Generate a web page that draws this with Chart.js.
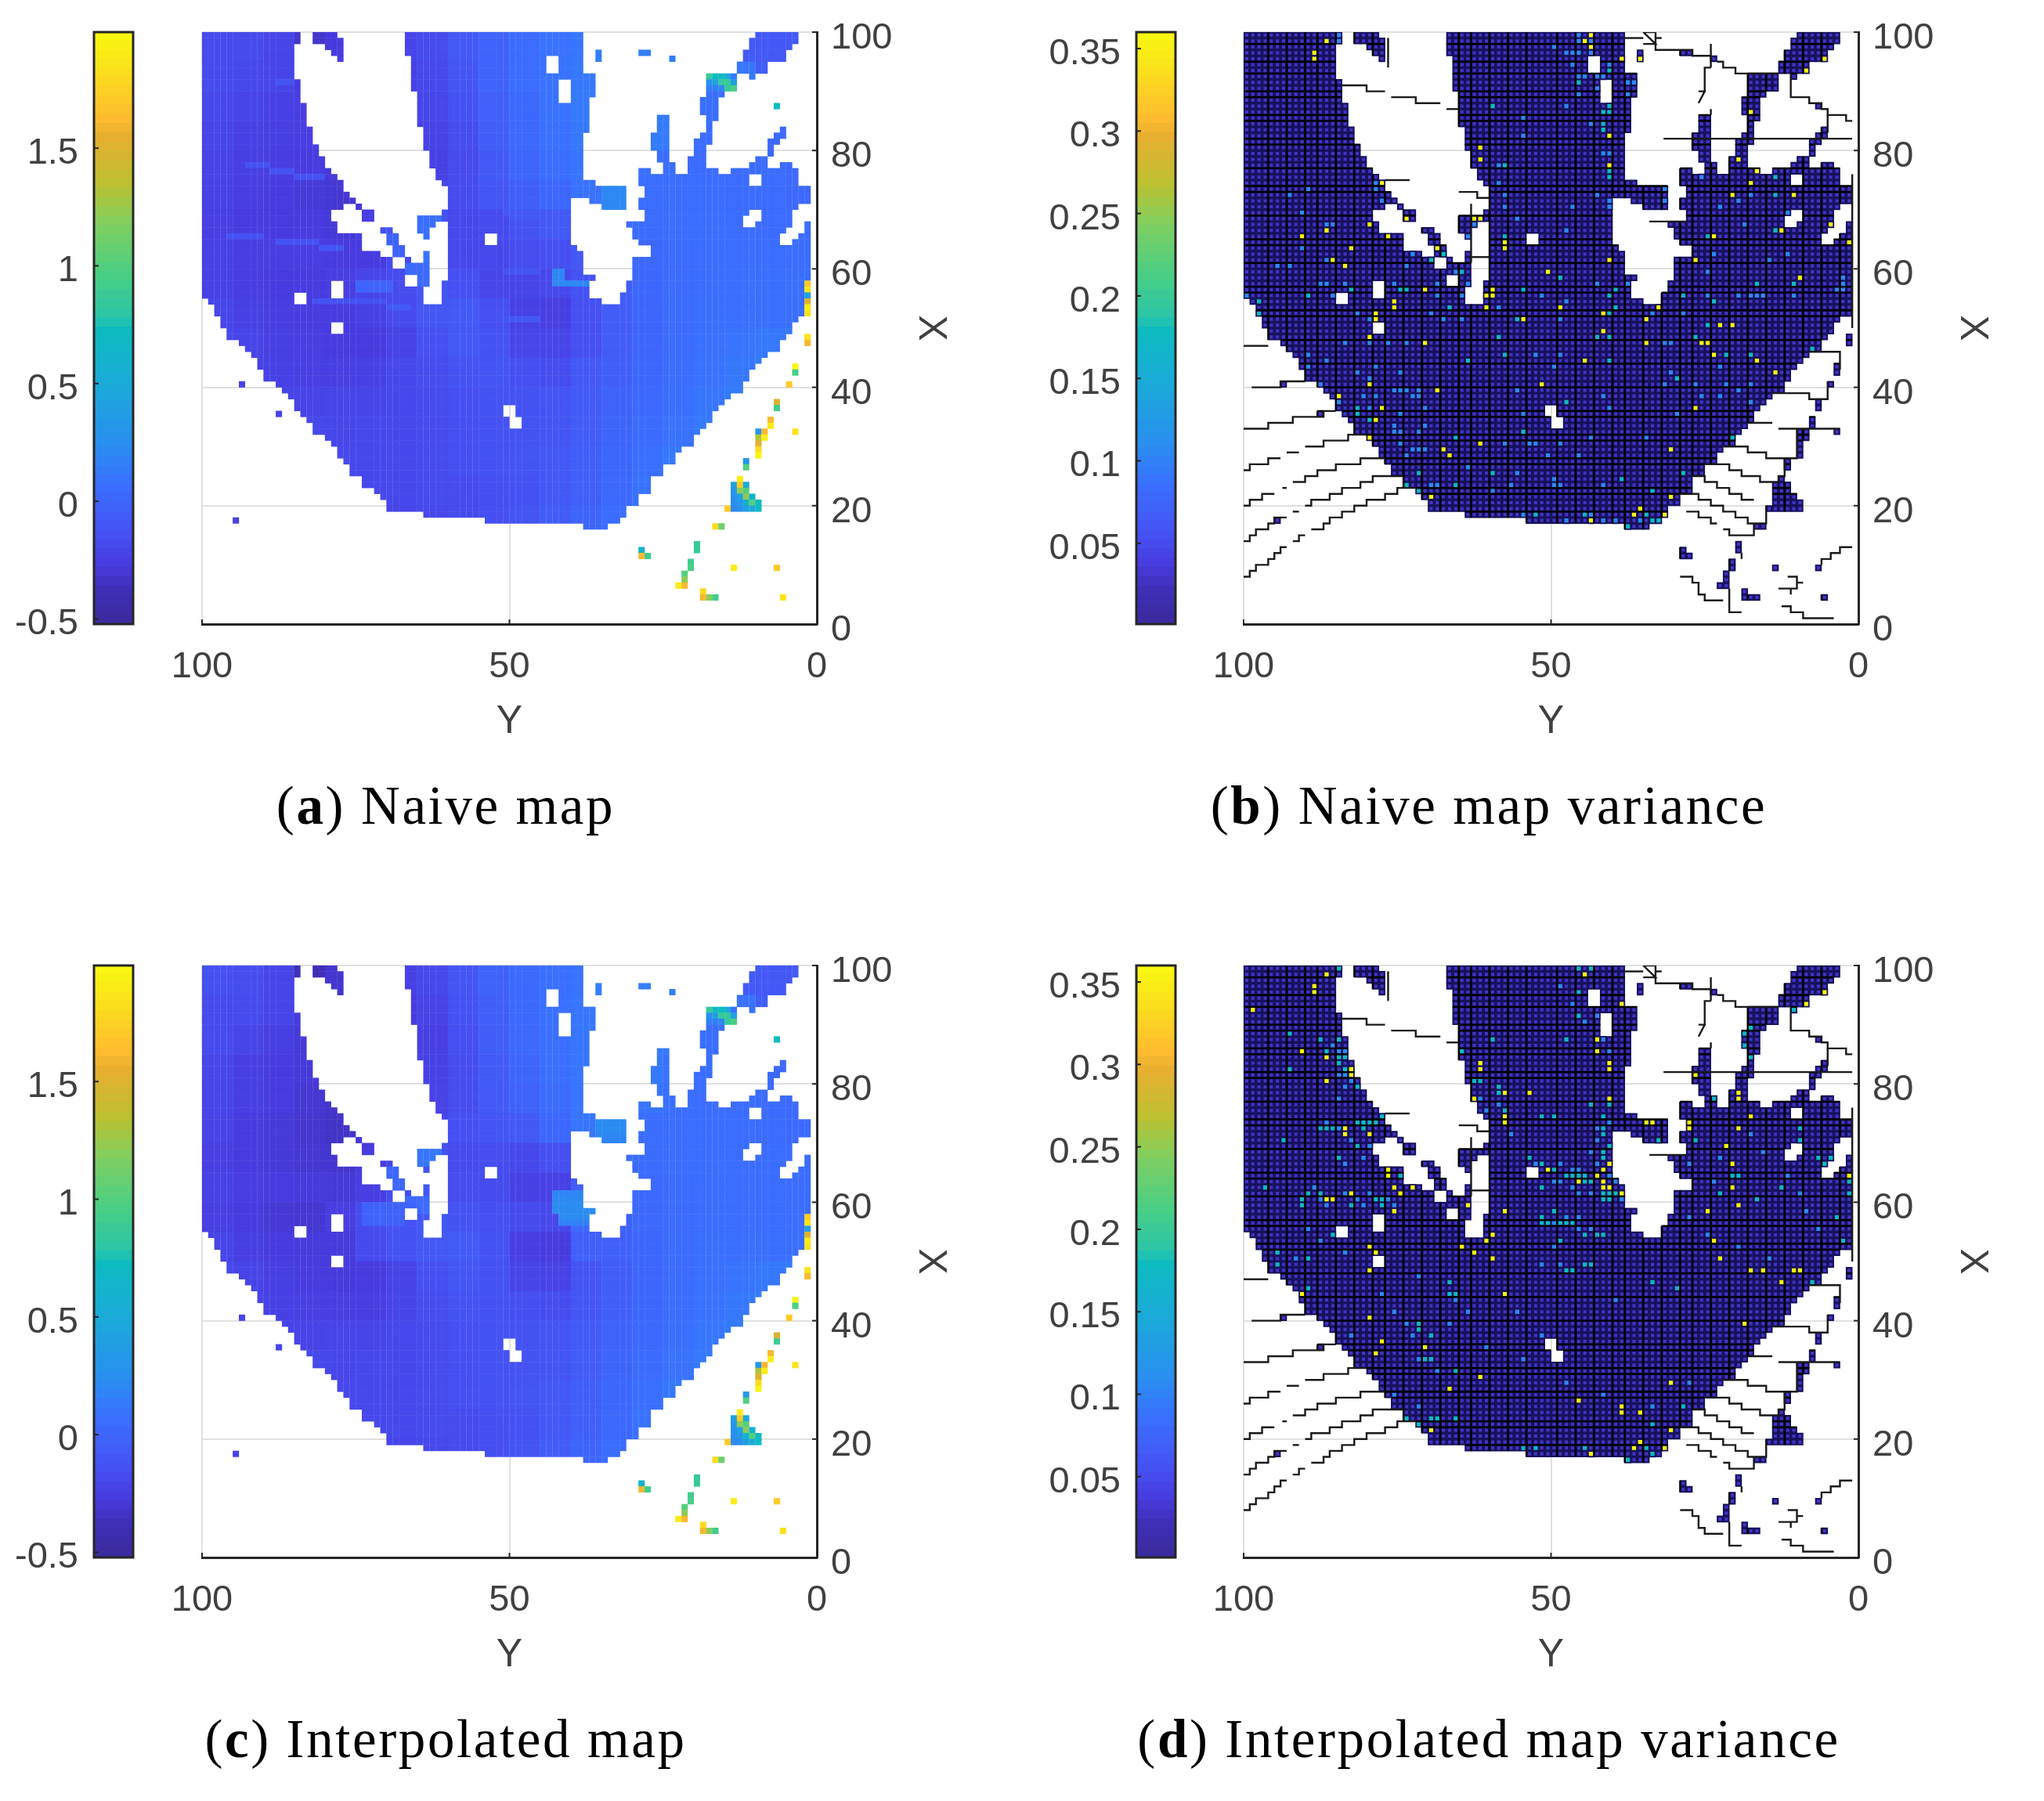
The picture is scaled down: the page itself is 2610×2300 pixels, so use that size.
<!DOCTYPE html>
<html><head><meta charset="utf-8">
<script src="https://cdn.jsdelivr.net/npm/chart.js@4/dist/chart.umd.min.js"></script>
<style>
html,body{margin:0;padding:0;background:#fff;width:2610px;height:2300px;overflow:hidden}
canvas{position:absolute}
.cap{position:absolute;font-family:"Liberation Serif",serif;font-size:69px;letter-spacing:2.6px;color:#000;white-space:nowrap;transform:translate(-50%,-50%)}
.cap b{font-weight:700}
</style></head><body>
<script>
// ---------- tick labels ----------
const mapTicksY = [100, 50, 0];
const mapTicksX = [0, 20, 40, 60, 80, 100];
const valueTicks = [-0.5, 0, 0.5, 1, 1.5];
const varianceTicks = [0.05, 0.1, 0.15, 0.2, 0.25, 0.3, 0.35];
const valueRange = [-0.522, 1.993];
const varianceRange = [0.001, 0.36];
const captions = [["a","Naive map"],["b","Naive map variance"],["c","Interpolated map"],["d","Interpolated map variance"]];

// ---------- colour bar ----------
const cmapT = [0,.056,.1,.147,.235,.299,.406,.494,.518,.586,.673,.741,.821,.853,.916,1];
const cmapC = ["#3a2a9c","#3f2fb8","#483ce0","#4650f2","#3a70ff","#2a8ef0","#1aabd8","#0dbbc0","#2cc5a8","#48cf85","#80cf60","#bcc030","#e8ae30","#ffbc30","#fbd820","#f9fb10"];

// ---------- observed cells: per row (X=100 at row 0), spans of columns (Y=100 at column 0), half open ----------
const rowSpans = [
[[0,16],[18,22],[33,62],[90,97]],[[0,16],[18,23],[33,62],[89,97]],[[0,15],[20,23],[33,62],[89,96]],
[[0,15],[21,23],[33,62],[64,65],[71,73],[88,95]],[[0,15],[22,23],[34,56],[58,62],[64,65],[76,77],[88,95]],
[[0,15],[34,56],[58,62],[87,92]],[[0,15],[34,56],[58,62],[87,92]],[[0,15],[34,64],[82,87],[89,90]],
[[0,16],[34,58],[60,64],[82,87]],[[0,16],[34,58],[60,64],[82,87]],[[0,16],[35,58],[60,64],[82,85]],
[[0,16],[35,58],[60,63],[81,84]],[[0,17],[35,63],[81,84],[93,94]],[[0,17],[35,63],[81,84]],
[[0,17],[35,63],[74,76],[82,84]],[[0,17],[35,63],[74,76],[82,83]],[[0,18],[36,63],[74,76],[82,83],[94,95]],
[[0,18],[36,62],[73,76],[81,83],[93,95]],[[0,18],[36,62],[73,76],[80,83],[92,94]],[[0,19],[36,62],[73,76],[80,82],[92,93]],
[[0,19],[37,62],[74,76],[80,82],[92,93]],[[0,20],[37,62],[74,76],[79,82],[90,92]],[[0,20],[37,62],[75,77],[79,82],[89,92],[94,96]],
[[0,21],[38,62],[71,73],[75,77],[79,84],[86,97]],[[0,22],[38,62],[71,89],[91,97]],[[0,23],[39,64],[71,89],[91,97]],
[[0,23],[40,69],[72,99]],[[0,24],[40,69],[72,99]],[[0,25],[40,60],[63,69],[71,99]],
[[0,23],[25,26],[40,60],[65,69],[71,97]],[[0,21],[26,28],[39,60],[72,89],[91,96]],[[0,21],[26,28],[35,60],[72,88],[91,96]],
[[0,22],[35,38],[40,60],[69,88],[90,96],[98,99]],[[0,22],[29,31],[35,37],[40,60],[70,95],[98,99]],
[[0,26],[30,32],[36,37],[40,46],[48,60],[70,94],[97,99]],[[0,26],[30,32],[40,46],[48,60],[71,94],[96,99]],
[[0,26],[31,33],[40,61],[73,99]],[[0,29],[31,33],[36,37],[40,62],[73,99]],[[0,31],[33,34],[36,37],[40,62],[70,99]],
[[0,31],[33,37],[40,62],[70,99]],[[0,37],[40,62],[70,99]],[[0,33],[35,37],[40,64],[70,99]],
[[0,21],[23,33],[35,37],[39,63],[69,99]],[[0,21],[23,36],[39,63],[69,99]],[[0,15],[17,21],[23,36],[39,63],[68,99]],
[[1,15],[17,36],[39,65],[68,99]],[[2,99]],[[2,99]],[[3,97]],[[3,21],[23,96]],[[4,21],[23,96]],
[[4,95],[98,99]],[[6,94],[98,99]],[[7,94]],[[8,92]],[[9,91]],[[9,90],[96,97]],[[10,89],[96,97]],[[10,89]],
[[6,7],[12,88],[95,96]],[[13,88]],[[14,86]],[[15,85],[93,94]],[[15,49],[51,84],[93,94]],[[12,13],[16,49],[51,83]],
[[17,50],[52,83],[92,93]],[[18,50],[52,82],[92,93]],[[18,81],[90,92],[96,97]],[[20,80],[90,92]],[[21,80],[90,91]],
[[22,78],[90,91]],[[22,77],[90,91]],[[23,77],[88,89]],[[24,75],[88,89]],[[24,75]],[[26,73],[87,88]],[[26,73],[86,89]],
[[28,73],[86,89]],[[29,71],[86,90]],[[30,71],[86,91]],[[30,69],[85,91]],[[36,69]],[[5,6],[46,68]],[[62,66],[83,85]],
[],[],[[80,81]],[[71,72],[80,81]],[[71,73]],[[79,80]],[[79,80],[86,87],[93,94]],[[78,79]],[[78,79]],[[77,79]],[[81,82]],[[81,84],[94,95]]
];

// ---------- map values read per 5x5 block, hundredths ----------
const naiveCoarse = [
[-18,-19,-22,-33,-28,-26,-22,-18,-10,-2,4,8,10,12,12,12,10,-8,-10,-10],
[-18,-20,-22,-28,-26,-26,-24,-20,-12,-2,5,8,11,13,13,13,12,10,-6,-6],
[-20,-22,-24,-26,-26,-24,-24,-21,-14,-4,3,8,12,13,13,13,6,4,0,0],
[-22,-24,-25,-26,-27,-26,-24,-23,-17,-6,2,7,11,13,13,12,5,5,2,0],
[-23,-25,-26,-27,-29,-28,-26,-24,-19,-9,0,5,9,13,6,5,4,4,4,2],
[-24,-26,-27,-29,-31,-30,-26,-22,-18,-11,-5,1,8,20,5,5,5,4,4,2],
[-25,-27,-27,-27,-29,-26,-22,-14,-20,-18,-13,-9,-4,2,4,5,5,5,4,4],
[-24,-26,-26,-26,-27,-27,-19,-13,-20,-20,-17,-15,-10,-3,2,4,5,5,5,5],
[-24,-26,-27,-27,-25,-22,-18,-12,-15,-21,-22,-20,-14,-6,1,4,5,6,6,6],
[-21,-24,-26,-27,-27,-24,-19,-11,-9,-15,-24,-25,-15,-7,0,4,6,6,6,6],
[-20,-22,-25,-26,-27,-27,-23,-15,-10,-13,-21,-22,-15,-7,0,4,7,9,11,12],
[-21,-23,-24,-25,-25,-24,-20,-17,-13,-12,-15,-17,-10,-5,1,5,8,11,13,13],
[-21,-22,-22,-23,-22,-22,-20,-18,-15,-13,-13,-12,-8,-3,2,6,10,13,14,14],
[-20,-20,-20,-20,-21,-20,-20,-18,-16,-14,-13,-12,-7,-1,4,8,12,14,14,14],
[-20,-20,-20,-20,-20,-20,-20,-18,-16,-14,-12,-10,-5,1,6,11,14,14,14,14],
[-20,-20,-20,-20,-20,-20,-20,-18,-18,-16,-14,-10,-4,2,8,12,14,14,14,14],
[-24,-24,-24,-24,-24,-24,-22,-20,-18,-16,-12,-7,-1,5,10,12,12,12,12,12]];
const interpCoarse = [
[-16,-17,-22,-38,-32,-28,-24,-20,-12,-3,3,6,8,10,10,10,10,-8,-10,-10],
[-18,-18,-22,-28,-28,-26,-27,-23,-14,-5,3,7,10,11,11,11,10,8,-6,-6],
[-18,-22,-25,-29,-28,-26,-26,-25,-16,-6,2,6,10,12,12,12,6,4,0,0],
[-21,-25,-27,-29,-31,-28,-27,-24,-17,-8,0,6,10,13,12,8,6,5,2,0],
[-22,-25,-27,-31,-33,-30,-27,-23,-17,-9,-3,4,9,11,10,6,5,5,4,3],
[-23,-27,-29,-32,-34,-30,-26,-20,-15,-12,-9,1,10,18,5,5,5,5,4,3],
[-25,-27,-29,-31,-32,-28,-22,-13,-18,-17,-20,-16,-6,4,4,5,5,5,5,5],
[-24,-26,-27,-28,-29,-26,-17,-10,-17,-18,-24,-24,-6,3,3,4,5,5,5,5],
[-25,-27,-30,-31,-26,-18,-13,-10,-13,-15,-18,-20,2,-2,2,4,5,5,5,5],
[-22,-25,-27,-28,-28,-18,-14,-10,-8,-13,-25,-27,-4,-4,1,4,6,6,6,6],
[-20,-22,-25,-27,-28,-27,-23,-15,-11,-14,-22,-23,-12,-6,0,4,7,9,11,12],
[-20,-22,-24,-25,-26,-26,-22,-17,-13,-14,-16,-17,-11,-5,1,5,8,11,13,13],
[-21,-22,-22,-23,-22,-22,-20,-18,-15,-13,-13,-12,-8,-3,2,6,10,13,14,14],
[-20,-20,-20,-20,-21,-20,-20,-18,-16,-14,-13,-12,-7,-1,4,8,12,14,14,14],
[-20,-20,-20,-20,-20,-20,-20,-18,-16,-14,-12,-10,-5,1,6,11,14,14,14,14],
[-20,-20,-20,-20,-20,-20,-20,-18,-18,-16,-14,-10,-4,2,8,12,14,14,14,14],
[-24,-24,-24,-24,-24,-24,-22,-20,-18,-16,-12,-7,-1,5,10,12,12,12,12,12]];

// ---------- streaks seen in the maps: [row, colFrom, colTo, value] ----------
const naiveStreaks = [[8,12,15,-.12],[22,7,11,-.14],[23,11,15,-.14],[24,15,20,-.14],[34,4,10,-.14],[35,12,19,-.14],[36,19,23,-.12],
[42,25,31,-.02],[43,25,31,-.02],[45,18,30,-.14],[46,30,34,-.08],[30,49,58,-.1],[31,50,58,-.1],[40,57,59,.2],[41,57,59,.2],[42,57,64,.2],[40,49,55,-.12],[48,49,55,-.1],
[31,35,39,.06],[32,35,38,.06],[33,35,37,.06],[34,36,37,.06],[39,33,37,.02],[40,33,37,.02],[41,35,37,.02],[42,35,37,.02],[33,29,31,-.14],[34,30,32,-.02],[35,30,32,-.02],[36,31,33,-.02],[37,31,33,-.02],[37,36,37,.08],[38,36,37,.08]];
const interpStreaks = [[39,33,37,.02],[40,33,37,.04],[41,35,37,.04],[31,35,39,.1],[32,35,38,.1],[33,35,37,.1],[34,30,32,.0],[35,30,32,.0],[36,31,33,.0],[37,31,33,.0],[38,57,62,.18],[39,57,64,.2],[40,57,63,.22],[41,57,65,.22],[42,58,64,.22],[43,58,63,.16],[26,64,69,.22],[27,64,69,.22],[28,64,69,.2],
[40,26,35,-.03],[41,26,35,-.02],[42,26,33,-.02],[43,26,33,-.03]];

// ---------- single cells off the main surface of the maps: [col, row, value] ----------
const mapOutliers = [
[82,7,.85],[83,7,.72],[84,7,.72],[85,7,.5],[82,8,.25],[83,8,.4],[84,8,.85],[85,8,.85],[86,8,.4],[85,9,.85],[86,9,.95],[84,9,.2],[83,9,.15],[82,9,.15],
[64,3,.15],[64,4,.15],[71,3,.15],[72,3,.15],[76,4,.15],[93,12,.72],
[98,42,1.7],[98,43,1.85],[98,44,.4],[98,45,1.5],[98,46,1.9],[98,47,1.85],
[98,51,1.85],[98,52,1.6],[96,56,1.95],[96,57,.95],[95,59,1.7],[93,62,1.5],[93,63,.9],[92,65,1.6],[92,66,1.9],[96,67,1.85],
[90,67,.3],[91,67,1.6],[90,68,1.3],[91,68,1.9],[90,69,1.5],[90,70,1.8],[90,71,1.95],[88,72,.3],[88,73,1.0],[87,75,1.9],
[86,76,.4],[87,76,1.7],[88,76,.5],[86,77,.3],[87,77,1.2],[88,77,1.0],[86,78,.25],[87,78,.4],[88,78,1.2],[89,78,.6],
[86,79,.25],[87,79,.3],[88,79,.6],[89,79,1.0],[90,79,.7],[85,80,1.7],[86,80,.2],[87,80,.25],[88,80,.4],[89,80,.5],[90,80,.7],
[83,83,1.8],[84,83,1.1],[80,86,.85],[80,87,.85],[71,87,.6],[71,88,1.6],[72,88,.9],[79,89,.9],[79,90,.95],[78,91,1.0],[78,92,1.2],
[77,93,1.9],[78,93,1.6],[81,94,1.8],[81,95,1.6],[82,95,1.2],[83,95,.9],[86,90,1.9],[93,90,1.7],[94,95,1.85]];

// ---------- naive variance: bright cells [col, row] ----------
const varNaiveYellow = [[13,1],[11,3],[11,4],[22,25],[26,31],[20,32],[13,33],[9,34],[23,34],[17,36],[31,36],[14,38],[16,39],[29,43],[24,45],[24,46],[21,47],[21,48],[38,19],[38,21],[37,31],[38,31],[39,44],[39,46],
[56,0],[55,1],[56,2],[61,4],[64,4],[94,4],[91,6],[82,13],[59,17],[80,21],[59,22],[83,23],[82,25],[79,27],[89,27],[95,32],[87,33],[76,34],[42,35],[42,36],[98,35],[73,38],[59,38],[49,40],[90,41],[40,43],[40,44],[51,46],[67,46],[58,47],[45,48],[65,48],[77,49],[79,49],
[20,51],[29,52],[15,61],[20,59],[31,60],[22,63],[21,65],[20,68],[38,69],[32,70],[33,71],[30,78],
[58,50],[65,52],[74,52],[75,52],[76,54],[55,55],[83,55],[86,57],[48,59],[73,63],[69,70],[69,78],[64,80],[63,81],[68,81],[56,82]];
const varNaiveTeal = [[17,43],[10,44],[2,45],[2,47],[25,43],[26,43],[30,38],[32,37],[35,40],[33,46],
[59,6],[54,8],[40,12],[59,12],[58,13],[59,13],[58,15],[58,16],[42,22],[59,23],[59,24],[86,24],[86,27],[75,34],[42,34],[86,33],[45,43],[60,43],[59,44],[71,44],[76,45],[60,46],[59,47],[51,41],[83,42],[89,42],[44,48],[75,49],[96,49],
[36,55],[18,63],[18,64],[20,65],[34,68],[28,74],[26,76],[34,76],[28,77],
[41,51],[57,51],[59,51],[73,51],[42,54],[59,55],[78,54],[82,54],[92,53],[70,58],[52,62],[45,67],[79,68],[71,74],[61,75],[66,77],[40,74],[47,81],[55,81],[65,81],[66,82],[67,82],[62,83]];
const varNaiveBlue = [[15,0],[15,1],[10,26],[7,27],[9,30],[13,32],[14,32],[9,36],[5,39],[7,39],[13,38],[26,39],[0,44],[14,44],[12,42],[13,42],[16,42],[24,42],[34,40],[31,42],[36,42],[36,34],[37,32],[21,25],[21,26],[22,28],[27,37],[35,44],[31,44],[35,48],[32,48],[20,48],[30,47],[18,47],
[54,0],[54,1],[56,1],[54,3],[50,2],[52,3],[53,3],[53,5],[56,3],[59,5],[54,7],[55,7],[57,7],[58,7],[62,8],[63,8],[57,9],[54,10],[62,10],[52,12],[45,14],[56,15],[45,17],[59,20],[58,20],[41,22],[41,25],[42,27],[57,27],[42,29],[53,29],[59,28],[59,29],[44,31],[52,33],[74,24],[82,27],[80,28],[77,29],[88,30],[81,32],[76,37],[85,38],[88,37],[68,26],[68,28],[57,42],[62,42],[48,44],[80,44],[82,44],[83,44],[84,44],[89,44],[96,43],[97,43],[97,42],[97,41],[71,47],[75,44],[75,40],[66,47],[52,45],[41,46],[51,48],
[16,52],[20,52],[23,52],[26,52],[10,54],[13,55],[10,56],[21,56],[18,57],[25,57],[20,58],[12,59],[24,60],[25,60],[26,60],[28,60],[19,61],[21,61],[27,61],[28,61],[15,62],[20,63],[29,63],[25,64],[24,66],[29,66],[24,67],[25,67],[28,67],[25,69],[27,70],[28,70],[29,70],[26,71],[36,73],[30,76],[31,76],[34,81],[35,81],
[68,52],[69,52],[51,54],[47,54],[76,54],[50,56],[77,56],[69,57],[68,59],[73,59],[78,59],[82,59],[44,60],[80,60],[58,61],[74,61],[77,61],[82,62],[59,63],[45,64],[70,64],[56,68],[65,68],[42,69],[46,69],[47,69],[51,69],[54,71],[49,71],[44,74],[50,75],[43,76],[50,76],[51,76],[58,76],[40,77],[45,81],[56,81],[60,82],[58,82],[64,82],[52,82]];

// ---------- interpolated variance: bright cells [col, row] ----------
const varInterpYellow = [[13,1],[11,3],[11,4],[1,7],[9,14],[13,15],[17,17],[17,18],[13,19],[16,27],[16,28],[20,28],[23,34],[23,35],[24,37],[25,38],[27,37],[13,39],[14,39],[17,38],[24,41],[20,47],[21,48],[20,51],[9,55],[20,59],[22,63],[21,65],[29,64],[33,71],[38,69],[30,78],
[38,16],[38,17],[37,22],[42,21],[46,21],[42,25],[42,26],[49,34],[54,36],[58,34],[59,33],[57,35],[58,36],[59,37],[58,37],[61,38],[36,40],[42,41],[40,45],[39,46],[38,45],[35,47],[37,48],[40,49],[42,55],[57,12],[57,14],[59,16],[59,17],[59,22],[55,1],[61,6],
[73,18],[72,26],[72,27],[65,26],[66,26],[80,21],[80,22],[82,25],[80,27],[78,30],[79,33],[79,37],[80,40],[75,41],[82,51],[84,51],[89,51],[90,51],[87,53],[77,49],[76,46],[81,60],[94,4],[91,6],[69,70],[54,73],[61,74],[61,75],[64,75],[69,78],[64,80],[63,81],[68,81],[56,82],[98,35]];
const varInterpTeal = [[15,0],[7,11],[12,12],[15,12],[13,14],[15,15],[16,15],[15,16],[7,17],[16,17],[18,20],[22,25],[12,27],[13,27],[14,27],[18,26],[19,26],[20,26],[21,26],[19,27],[6,29],[18,30],[15,32],[24,33],[25,35],[3,37],[10,38],[12,38],[9,39],[9,40],[21,39],[22,39],[17,40],[22,40],[14,45],[20,47],[10,49],[5,48],[5,50],[10,54],[28,60],[28,61],[30,62],[30,66],[29,66],[34,68],[33,53],[33,55],[34,55],
[40,12],[35,14],[38,19],[37,19],[41,20],[41,21],[42,24],[48,25],[50,25],[46,32],[48,33],[49,34],[50,34],[48,37],[52,35],[53,35],[54,35],[55,35],[55,36],[56,36],[48,42],[50,41],[48,43],[49,43],[51,43],[52,43],[53,43],[55,45],[57,45],[58,45],[52,51],[53,51],[55,50],[56,50],[51,46],[58,38],[59,38],[60,38],[58,39],[59,39],[58,32],[58,31],[58,27],[58,28],[59,30],[59,23],[56,23],[58,25],[54,0],[56,0],[54,4],[54,8],[52,12],
[76,22],[67,29],[73,29],[81,11],[81,13],[82,10],[82,15],[90,27],[90,29],[89,7],[93,32],[95,32],[94,33],[98,36],[98,38],[96,42],[97,46],[92,53],[66,53],[70,54],[79,35],[80,35],[77,38],[83,39],[87,37],[71,74],[66,77],[26,76],[28,77],[30,76],[31,76],[45,81],[47,81],[55,81],[65,81],[66,82],[62,83],[34,76]];
const varInterpBlue = [[14,13],[15,14],[16,14],[15,18],[16,18],[17,19],[16,20],[15,22],[13,26],[15,27],[17,29],[20,30],[19,32],[16,33],[11,37],[12,39],[13,40],[16,38],[18,39],[19,40],[20,38],[23,39],[24,40],[10,44],[12,46],[16,48],[8,49],[26,60],[27,62],[28,66],[31,68],[24,72],[28,74],[38,22],[39,24],[41,23],[43,28],[47,33],[51,33],[53,34],[54,34],[50,36],[51,36],[53,37],[54,38],[56,38],[52,42],[54,42],[50,43],[54,44],[56,44],[50,47],[48,50],[51,50],[57,27],[57,29],[56,31],[57,33],[59,35],[60,36],[61,39],[59,26],[58,12],[59,14],[57,8],[55,9],[51,3],[53,6],[70,30],[72,33],[76,36],[77,32],[82,28],[84,31],[88,35],[90,38],[91,41],[93,44],[72,42],[75,45],[80,47],[85,49],[60,56],[44,58],[48,62],[33,60],[39,64],[45,66],[52,70],[58,72],[66,74],[72,70],[28,52],[34,56],[36,58],[22,55],[24,58],[17,62]];

// ---------- stepped mesh traces in the empty parts: pieces [colFrom, colTo, X] ----------
const meshTraces = [
[[0,4,47]],[[1.3,6,40],[6,10,41]],[[0,4,33],[4,8,34],[8,13,35],[13,15,36]],
[[0,1,26],[1,4,27],[4,6,28]],[[7,9,29]],[[10,13,30],[13,17,31],[17,20,32]],
[[0,1,20],[1,3,21],[3,5,22]],[[6.3,7,23]],[[8,10,24],[10,12,25],[12,15,26],[15,19,27],[19,23,28]],
[[0,1,14],[1,2,15],[2,4,16],[4,5,17],[5,7,18]],[[8,9,19]],[[10,11,20],[11,14,21],[14,16,22],[16,19,23],[19,21,24],[21,26,25]],
[[0,1,8],[1,2,9],[2,4,10],[4,5,11],[5,6,12],[6,7,13]],[[8,9,14],[9,10,15]],[[11,13,16],[13,14,17],[14,16,18],[16,18,19],[18,20,20],[20,23,21],[23,25,22],[25,28,23]],
[[72,74,19],[74,76,18],[76,77,17]],[[78,79,16],[79,83,15],[83,83,17]],
[[71,74,22],[74,76,21],[76,78,20],[78,80,19],[80,82,18],[82,85,17],[85,85,20]],
[[73,75,25],[75,77,24],[77,79,23],[79,81,22],[81,83,21]],
[[75,79,27],[79,81,26],[81,84,25],[84,87,24],[87,88,25],[88,88,28]],
[[78,82,30],[82,85,29],[85,90,28],[90,90,33]],[[82,86,34]],[[87,97,33]],
[[86,92,39],[92,95,38],[95,95,41]],[[92,97,46],[97,97,43]],
[[94,94,10],[94,95.5,11],[95.5,97,12],[97,99,13]],
[[71,73,8],[73,74,7],[74,74,5],[74,75,5],[75,78,4]],[[79,79,6],[79,79,2],[79,81,2]],[[81,81,11],[81,81,12]],
[[87,90,6],[90,90,8],[88.5,90,8]],[[90,91,7]],[[89,89,6],[89,89,5]],[[87.5,89,3],[89,91,2],[91,96,1]],
[[62,65,99]],[[65,67,100],[67,67,98],[65,67,98],[65,65,100]],[[67,68,99]],[[67,67,98],[67,73,97],[73,76,96]],[[76,76,98],[76,76,94]],
[[77,78,95],[78,80,94],[80,87,93]],[[76,75,94],[75,75,90],[74,75,90],[74,74,88]],[[76,76,87],[76,76,86]],
[[89,89,93],[89,92,89],[92,94,88],[94,95,87],[95,98,86],[98,99,85]],[[95,95,86],[95,95,83]],
[[68.3,99,82]],[[66,72,68]],[[99,99,76],[99,99,50]],
[[16,20,91],[20,23,90]],[[24,28,89],[28,32,88]],[[33,35,87]],[[23,27,75]],[[35,38,73],[38,40,72]],[[37,37,71],[37,37,61]],[[37,40,62]],
[[23.5,23.5,99],[23.5,23.5,94]]];

// ---------- moire of the mesh: row edges and column edges that print darker ----------
const darkRowEdges = [2,5,7,10,11,14,15,18,19,23,26,27,31,35,36,39,43,44,47,48,52,56,60,64,65,68,69,72,73,77,78,81];
const darkColEdges = [4,7,10,12,15,18,21,23,26,29,32,35,37,40,43,46,51,54,57,60,62,65,68,71,73,76,79,82,85,88,91,94,97];

// ---------- helpers ----------
function hex(c){return [1,3,5].map(i=>parseInt(c.substr(i,2),16));}
function cmap(t){
  t=Math.max(0,Math.min(1,t));
  let i=0; while(i<cmapT.length-2 && t>cmapT[i+1]) i++;
  const f=(t-cmapT[i])/(cmapT[i+1]-cmapT[i]), a=hex(cmapC[i]), b=hex(cmapC[i+1]);
  return `rgb(${a.map((v,k)=>Math.round(v+(b[k]-v)*f)).join(",")})`;
}
const inTicks = {id:"inTicks",afterDraw(ch,_,o){
  const c=ch.ctx,a=ch.chartArea; c.save(); c.strokeStyle="#262626"; c.lineWidth=2;
  (o.scales||[]).forEach(id=>{const s=ch.scales[id];s.ticks.forEach(t=>{
    const p=s.getPixelForValue(t.value); c.beginPath();
    if(s.axis==="x"){c.moveTo(p,a.bottom);c.lineTo(p,a.bottom-6);}
    else if(s.position==="right"){c.moveTo(a.right,p);c.lineTo(a.right-6,p);}
    else {c.moveTo(a.left,p);c.lineTo(a.left+6,p);}
    c.stroke();});});
  if(o.frame){c.lineWidth=3;c.strokeRect(a.left,a.top,a.right-a.left,a.bottom-a.top);}
  c.restore();}};
function addCanvas(l,t,w,h){const c=document.createElement("canvas");c.width=w;c.height=h;c.style.left=l+"px";c.style.top=t+"px";c.style.width=w+"px";c.style.height=h+"px";document.body.appendChild(c);return c;}
const noPad=s=>{s.paddingLeft=s.paddingRight=s.paddingTop=s.paddingBottom=0;};

const TICK_FONT={family:"Liberation Sans",size:47}, TICK="#404040";
const PW=785,PH=756,PAD=40;

function cells(valueAt){
  const rows=[];
  rowSpans.forEach((sp,r)=>sp.forEach(([a,b])=>{for(let c=a;c<b;c++){rows.push({p:{x:100-c-.5,y:100-r-.5},v:valueAt(c,r)});}}));
  return rows;
}
function mapChart(left,top,cellDs,extra){
  const cv=addCanvas(left-PAD,top-PAD,PAD+PW+175,PAD+PH+155);
  new Chart(cv,{type:"scatter",data:{datasets:[cellDs,...extra]},plugins:[inTicks],options:{
    responsive:false,animation:false,events:[],layout:{padding:{left:PAD,top:PAD,right:0,bottom:0}},
    plugins:{legend:{display:false},tooltip:{enabled:false},inTicks:{scales:["x","y"]}},
    scales:{
      x:{type:"linear",reverse:true,min:0,max:100,position:"bottom",afterBuildTicks:s=>{s.ticks=mapTicksY.map(v=>({value:v}));},
         afterFit:s=>{s.height=155;noPad(s);},grid:{color:"#e0e0e0",lineWidth:2,drawTicks:false},border:{display:true,color:"#262626",width:3},
         ticks:{font:TICK_FONT,color:TICK,padding:27,maxRotation:0,autoSkip:false},
         title:{display:true,text:"Y",font:{family:"Liberation Sans",size:50},color:TICK,padding:{top:0,bottom:0}}},
      y:{type:"linear",min:0,max:100,position:"right",afterBuildTicks:s=>{s.ticks=mapTicksX.map(v=>({value:v}));},
         afterFit:s=>{s.width=175;noPad(s);},grid:{color:"#e0e0e0",lineWidth:2,drawTicks:false},border:{display:true,color:"#262626",width:3},
         ticks:{font:TICK_FONT,color:TICK,padding:18,labelOffset:8,autoSkip:false},
         title:{display:true,text:"X",font:{family:"Liberation Sans",size:50},color:TICK,padding:{top:0,bottom:0}}}
    }}});
}
function barChart(plotLeft,top,ticks,range,fmt){
  const cv=addCanvas(plotLeft-120,top-PAD,125+50,PAD*2+PH);
  const n=64,ds=[];
  for(let i=0;i<n;i++){
    const lo=range[0]+(range[1]-range[0])*i/n, hi=range[0]+(range[1]-range[0])*(i+1.15)/n;
    ds.push({data:[[lo,Math.min(hi,range[1])]],backgroundColor:cmap((i+.5)/n),borderWidth:0,barPercentage:1,categoryPercentage:1});
  }
  new Chart(cv,{type:"bar",data:{labels:["scale"],datasets:ds},plugins:[inTicks],options:{
    responsive:false,animation:false,events:[],layout:{padding:{left:0,top:PAD,right:5,bottom:PAD}},
    plugins:{legend:{display:false},tooltip:{enabled:false},inTicks:{scales:["y"],frame:true}},
    scales:{
      x:{stacked:true,display:false},
      y:{type:"linear",stacked:false,min:range[0],max:range[1],position:"left",afterBuildTicks:s=>{s.ticks=ticks.map(v=>({value:v}));},
         afterFit:s=>{s.width=120;noPad(s);},grid:{display:false},border:{display:false},
         ticks:{font:TICK_FONT,color:TICK,padding:12,labelOffset:7,autoSkip:false,callback:fmt}}
    }}});
}
function overlays(){
  const tr=[];
  meshTraces.forEach(pl=>{const d=[];pl.forEach(([a,b,x])=>{d.push({x:100-a,y:x});d.push({x:100-b,y:x});});
    tr.push({data:d,showLine:true,borderColor:"#1a1a1a",borderWidth:2.4,pointRadius:0,order:1});});
  const hd=[];
  darkRowEdges.forEach(e=>{(rowSpans[e]||[]).forEach(([a,b])=>{hd.push({x:100-a,y:100-e},{x:100-b,y:100-e},{x:NaN,y:NaN});});});
  const vd=[];
  darkColEdges.forEach(e=>{let st=null;
    for(let r=0;r<=100;r++){const on=r<100&&(rowSpans[r]||[]).some(([a,b])=>a<=e&&e<b);
      if(on&&st===null)st=r; if(!on&&st!==null){vd.push({x:100-e,y:100-st},{x:100-e,y:100-r},{x:NaN,y:NaN});st=null;}}});
  const dark=d=>({data:d,showLine:true,spanGaps:false,borderColor:"#000",borderWidth:2.4,pointRadius:0,order:2});
  return [...tr,dark(hd),dark(vd)];
}
function mapPanel(left,top,coarse,streaks){
  const lut=new Map();
  streaks.forEach(([r,a,b,v])=>{for(let c=a;c<b;c++)lut.set(r*100+c,v);});
  mapOutliers.forEach(([c,r,v])=>lut.set(r*100+c,v));
  const all=cells((c,r)=>{const k=r*100+c;if(lut.has(k))return lut.get(k);
     const row=coarse[Math.floor(r/5)]||[];return (row[Math.floor(c/5)]??0)/100;});
  mapChart(left,top,{data:all.map(o=>o.p),pointStyle:"rect",pointRadius:5.7,pointBorderWidth:0,
    pointBackgroundColor:all.map(o=>cmap((o.v-valueRange[0])/(valueRange[1]-valueRange[0]))),order:5},[]);
}
function varPanel(left,top,yellow,teal,blue){
  const lut=new Map();
  blue.forEach(([c,r])=>lut.set(r*100+c,.105));
  teal.forEach(([c,r])=>lut.set(r*100+c,.178));
  yellow.forEach(([c,r])=>lut.set(r*100+c,.358));
  const base=.026;
  const all=cells((c,r)=>lut.get(r*100+c)??base).sort((a,b)=>a.v-b.v);
  mapChart(left,top,{data:all.map(o=>o.p),pointStyle:"rect",pointRadius:all.map(o=>o.v>base?5:4.5),pointBorderWidth:all.map(o=>o.v>base?1.8:2.2),pointBorderColor:"#17125c",
    pointBackgroundColor:all.map(o=>cmap((o.v-varianceRange[0])/(varianceRange[1]-varianceRange[0]))),order:5},overlays());
}

const ROW2=1192;
barChart(120,41,valueTicks,valueRange,v=>String(v));
barChart(120,41+ROW2,valueTicks,valueRange,v=>String(v));
barChart(1451,41,varianceTicks,varianceRange,v=>String(v));
barChart(1451,41+ROW2,varianceTicks,varianceRange,v=>String(v));
mapPanel(258,41,naiveCoarse,naiveStreaks);
mapPanel(258,41+ROW2,interpCoarse,interpStreaks);
varPanel(1588,41,varNaiveYellow,varNaiveTeal,varNaiveBlue);
varPanel(1588,41+ROW2,varInterpYellow,varInterpTeal,varInterpBlue);

const capX=[569,1901,569,1901],capY=[1029,1029,2221,2221];
captions.forEach(([l,t],i)=>{const d=document.createElement("div");d.className="cap";d.style.left=capX[i]+"px";d.style.top=capY[i]+"px";
  d.innerHTML="(<b>"+l+"</b>) "+t;document.body.appendChild(d);});
</script>
</body></html>
